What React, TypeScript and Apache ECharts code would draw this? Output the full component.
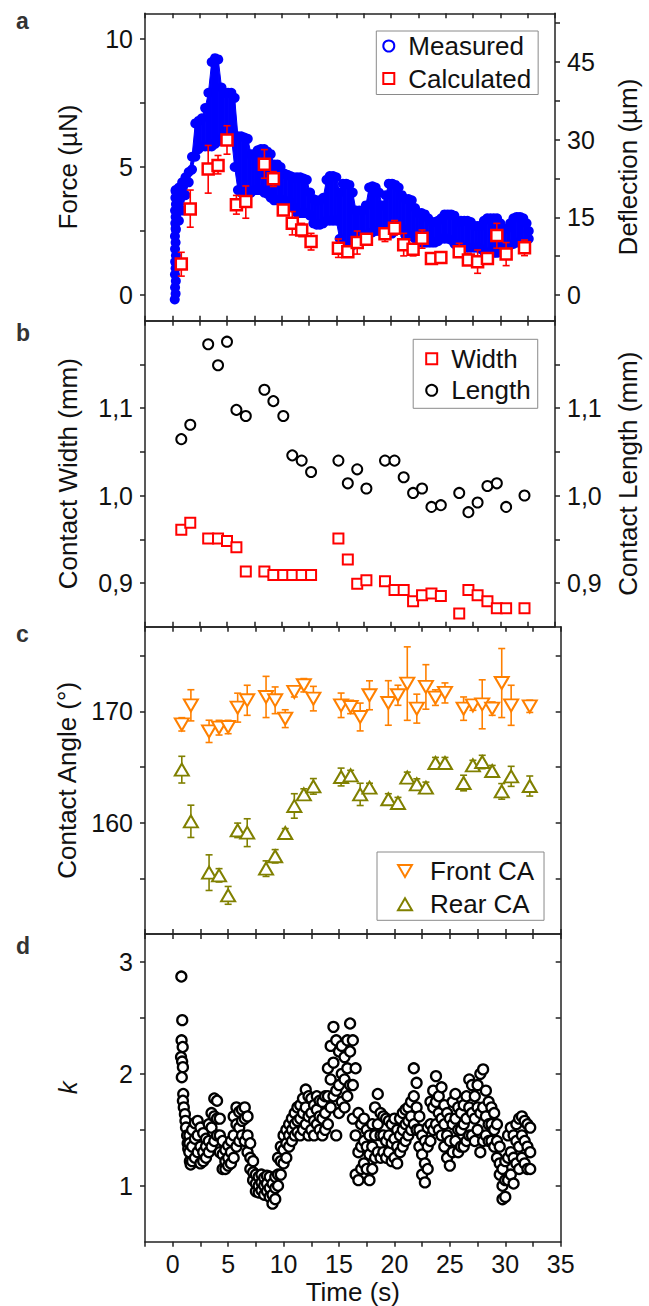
import { useEffect, useRef } from 'react';
import * as echarts from 'echarts';

const FONT = "'Liberation Sans', Arial, Helvetica, sans-serif";
const BLUE = '#0000ff';
const RED = '#ff0000';
const ORANGE = '#ff8000';
const OLIVE = '#808000';
const INK = '#111111';
const FRAME = '#222222';

// ---------- shared x axis ----------
const timeMin = -2.5;
const timeMax = 35;
const timeStep = 2.5;

// ---------- panel a: measured force band (envelope) ----------
const forceTime = [
  0.3, 0.6, 0.9, 1.2, 1.5, 1.8, 2.1, 2.4, 2.7, 3.0, 3.3, 3.6, 3.9, 4.2, 4.5, 4.8, 5.1, 5.4,
  5.7, 6.0, 6.3, 6.6, 6.9, 7.2, 7.5, 7.8, 8.1, 8.4, 8.7, 9.0, 9.3, 9.6, 9.9, 10.2, 10.5, 10.8,
  11.1, 11.4, 11.7, 12.0, 12.3, 12.6, 12.9, 13.2, 13.5, 13.8, 14.1, 14.4, 14.7, 15.0, 15.3, 15.6,
  15.9, 16.2, 16.5, 16.8, 17.1, 17.4, 17.7, 18.0, 18.3, 18.6, 18.9, 19.2, 19.5, 19.8, 20.1, 20.4,
  20.7, 21.0, 21.3, 21.6, 21.9, 22.2, 22.5, 22.8, 23.1, 23.4, 23.7, 24.0, 24.3, 24.6, 24.9, 25.2,
  25.5, 25.8, 26.1, 26.4, 26.7, 27.0, 27.3, 27.6, 27.9, 28.2, 28.5, 28.8, 29.1, 29.4, 29.7, 30.0,
  30.3, 30.6, 30.9, 31.2, 31.5, 31.8, 32.1, 32.4, 32.6,
];
const forceLow = [
  2.6, 2.9, 3.3, 3.9, 4.4, 4.9, 5.4, 5.7, 5.8, 5.8, 5.8, 5.8, 5.9, 6.0, 6.1, 6.2, 6.2, 6.2,
  5.0, 4.1, 4.0, 4.0, 4.0, 4.0, 4.1, 4.1, 4.1, 4.0, 3.95, 3.8, 3.7, 3.7, 3.7, 3.7, 3.65, 3.6,
  3.4, 3.2, 3.2, 3.2, 3.2, 3.1, 2.8, 2.75, 2.75, 2.8, 2.9, 2.9, 2.9, 2.9, 2.2, 1.95,
  1.9, 1.9, 1.95, 2.1, 2.2, 2.25, 2.3, 2.4, 2.45, 2.5, 2.5, 2.5, 2.45, 2.4, 2.4, 2.5,
  2.7, 2.6, 2.35, 2.3, 2.3, 2.2, 2.1, 2.05, 2.05, 2.05, 2.05, 2.05, 2.1, 2.2, 2.2, 2.2,
  2.15, 2.0, 1.9, 1.85, 1.85, 1.85, 1.85, 1.85, 1.85, 1.8, 1.7, 1.65, 1.65, 1.65, 1.65, 1.7,
  1.75, 1.85, 1.95, 2.0, 2.05, 2.05, 2.05, 2.1, 2.2,
];
const forceHigh = [
  4.1, 4.2, 4.4, 4.6, 4.8, 5.4, 6.7, 6.8, 6.9, 7.3, 7.9, 9.1, 9.25, 9.2, 8.1, 7.9, 7.9, 7.9,
  7.7, 6.2, 6.2, 6.15, 6.1, 5.5, 5.5, 5.65, 5.7, 5.7, 5.6, 5.5, 5.1, 5.1, 5.0, 4.75, 4.7, 4.65,
  4.6, 4.6, 4.6, 4.55, 4.5, 4.0, 3.75, 3.7, 3.7, 3.8, 4.5, 4.65, 4.65, 4.6, 4.0, 4.35,
  4.35, 4.3, 4.0, 3.3, 3.3, 3.3, 3.5, 4.2, 4.25, 4.2, 4.0, 3.5, 3.9, 4.35, 4.35, 4.3,
  4.2, 3.9, 3.75, 3.75, 3.7, 3.4, 3.2, 3.2, 3.15, 3.0, 2.85, 2.85, 2.9, 3.0, 3.15, 3.15,
  3.15, 3.1, 2.85, 2.9, 2.9, 2.9, 2.85, 2.7, 2.7, 2.7, 2.9, 3.0, 3.0, 3.0, 3.0, 2.8,
  2.6, 2.6, 2.8, 3.0, 3.05, 3.05, 3.0, 2.8, 2.5,
];
// initial steep rise, drawn as one column of points
const forceColumnTime = [0.22, 0.3, 0.25, 0.32, 0.24, 0.3, 0.26, 0.33, 0.25, 0.3, 0.24, 0.32, 0.27, 0.3, 0.25, 0.33, 0.28, 0.3];
const forceColumnValue = [-0.17, 0.05, 0.3, 0.55, 0.8, 1.05, 1.3, 1.55, 1.8, 2.05, 2.3, 2.55, 2.8, 3.05, 3.3, 3.55, 3.8, 4.05];

// ---------- frame times shared by calculated force, contact sizes, contact angles ----------
const frameTime = [
  0.82, 1.64, 3.28, 4.18, 5.0, 5.86, 6.72, 8.42, 9.24, 10.15, 10.97, 11.83, 12.69, 15.19, 16.05, 16.91,
  17.75, 19.45, 20.32, 21.16, 22.02, 22.84, 23.7, 24.56, 26.24, 27.08, 27.92, 28.82, 29.68, 30.53, 32.21,
];
const calcForce = [1.21, 3.36, 4.92, 5.06, 6.05, 3.53, 3.65, 5.11, 4.54, 3.32, 2.8, 2.54, 2.09, 1.83, 1.69, 2.05, 2.18, 2.39, 2.61, 1.96, 1.79, 2.22, 1.43, 1.47, 1.69, 1.37, 1.3, 1.43, 2.33, 1.6, 1.85];
const calcForceLow = [0.74, 2.65, 3.98, 4.73, 5.5, 3.16, 3.0, 4.56, 4.24, 3.16, 2.35, 2.28, 1.76, 1.47, 1.5, 1.6, 2.02, 2.09, 2.35, 1.53, 1.53, 1.83, 1.43, 1.47, 1.5, 1.17, 0.85, 1.43, 1.83, 1.15, 1.54];
const calcForceHigh = [1.67, 4.1, 5.84, 5.45, 6.61, 3.89, 4.26, 5.68, 4.82, 3.48, 3.26, 2.8, 2.41, 2.19, 1.89, 2.5, 2.35, 2.6, 2.91, 2.41, 1.96, 2.54, 1.43, 1.47, 2.02, 1.63, 1.76, 1.43, 2.8, 2.05, 2.15];

const forceLabels = [0, 5, 10];
const forceTicks = [0, 2.5, 5, 7.5, 10];
const deflectionPerForce = 4.94; // µm per µN
const deflectionLabels = [0, 15, 30, 45];
const deflectionTicks = [0, 7.5, 15, 22.5, 30, 37.5, 45, 52.5];

// ---------- panel b ----------
const contactWidth = [0.961, 0.969, 0.951, 0.951, 0.948, 0.941, 0.913, 0.913, 0.909, 0.909, 0.909, 0.909, 0.909, 0.951, 0.927, 0.899, 0.903, 0.902, 0.892, 0.892, 0.879, 0.886, 0.888, 0.885, 0.865, 0.892, 0.886, 0.879, 0.871, 0.871, 0.871];
const contactLength = [1.0645, 1.081, 1.173, 1.149, 1.176, 1.098, 1.091, 1.121, 1.108, 1.091, 1.046, 1.04, 1.027, 1.04, 1.014, 1.03, 1.008, 1.04, 1.04, 1.021, 1.003, 1.008, 0.987, 0.989, 1.003, 0.981, 0.992, 1.011, 1.014, 0.987, 1.0];
const sizeLabels = [0.9, 1.0, 1.1];
const sizeTicks = [0.9, 0.95, 1.0, 1.05, 1.1, 1.15];

// ---------- panel c ----------
const frontCA = [168.83, 170.54, 168.2, 168.53, 168.59, 170.33, 170.99, 171.29, 170.99, 169.34, 171.74, 172.34, 171.14, 170.54, 170.39, 169.49, 171.44, 170.75, 171.44, 172.49, 170.24, 172.19, 171.23, 171.65, 170.24, 170.54, 170.63, 170.24, 172.54, 170.54, 170.45];
const frontCAErr = [0.6, 1.4, 1.0, 0.66, 0.6, 1.3, 1.35, 1.85, 1.2, 0.8, 0.45, 0.6, 1.1, 1.1, 0.6, 1.25, 1.3, 2.0, 0.9, 3.3, 1.3, 2.0, 0.7, 0.9, 1.05, 0.45, 2.2, 0.6, 3.1, 1.8, 0.55];
const rearCA = [164.76, 160.12, 155.51, 155.27, 153.47, 159.31, 159.1, 155.87, 156.98, 159.07, 161.5, 162.54, 163.26, 164.1, 164.25, 162.54, 163.14, 162.1, 161.77, 164.04, 163.44, 163.14, 165.36, 165.36, 163.56, 165.15, 165.45, 164.64, 162.81, 164.16, 163.29];
const rearCAErr = [1.2, 1.45, 1.6, 0.6, 0.8, 0.65, 1.25, 0.7, 0.6, 0.4, 1.1, 0.5, 0.7, 0.8, 0.45, 1.0, 0.4, 0.5, 0.5, 0.5, 0.5, 0.5, 0.5, 0.5, 0.7, 0.45, 0.6, 0.5, 0.7, 0.9, 0.9];
const angleLabels = [160, 170];
const angleTicks = [155, 160, 165, 170, 175];

// ---------- panel d ----------
const kEarlyTime = [0.78, 0.86, 0.8, 0.9, 0.75, 0.85, 0.92, 0.82, 0.95, 0.92, 1.0, 1.1, 1.15, 1.2, 1.3, 1.35, 1.4, 1.55, 1.62];
const kEarlyValue = [2.87, 2.48, 2.3, 2.24, 2.15, 2.11, 2.06, 1.97, 1.82, 1.76, 1.7, 1.64, 1.58, 1.52, 1.45, 1.38, 1.33, 1.22, 1.19];
const kTime = [
  1.5, 1.75, 2, 2.25, 2.5, 2.75, 3, 3.25,
  3.5, 3.75, 4, 4.25, 4.5, 4.75, 5, 5.25,
  5.5, 5.75, 6, 6.25, 6.5, 6.75, 7, 7.25,
  7.5, 7.75, 8, 8.25, 8.5, 8.75, 9, 9.25,
  9.5, 9.75, 10, 10.25, 10.5, 10.75, 11, 11.25,
  11.5, 11.75, 12, 12.25, 12.5, 12.75, 13, 13.25,
  13.5, 13.75, 14, 14.25, 14.5, 14.75, 15, 15.25,
  15.5, 15.75, 16, 16.25, 16.5, 16.75, 17, 17.25,
  17.5, 17.75, 18, 18.25, 18.5, 18.75, 19, 19.25,
  19.5, 19.75, 20, 20.25, 20.5, 20.75, 21, 21.25,
  21.5, 21.75, 22, 22.25, 22.5, 22.75, 23, 23.25,
  23.5, 23.75, 24, 24.25, 24.5, 24.75, 25, 25.25,
  25.5, 25.75, 26, 26.25, 26.5, 26.75, 27, 27.25,
  27.5, 27.75, 28, 28.25, 28.5, 28.75, 29, 29.25,
  29.5, 29.75, 30, 30.25, 30.5, 30.75, 31, 31.25,
  31.5, 31.75, 32, 32.25,
];
const kLow = [
  1.30, 1.22, 1.25, 1.30, 1.20, 1.22, 1.25, 1.30,
  1.35, 1.40, 1.45, 1.30, 1.15, 1.15, 1.18, 1.20,
  1.25, 1.35, 1.40, 1.45, 1.40, 1.30, 1.15, 1.05,
  0.95, 0.94, 0.96, 0.92, 0.95, 0.90, 0.84, 0.88,
  1.00, 1.10, 1.20, 1.25, 1.35, 1.40, 1.45, 1.48,
  1.45, 1.50, 1.55, 1.45, 1.50, 1.45, 1.55, 1.50,
  1.45, 1.50, 1.55, 1.70, 1.80, 1.45, 1.65, 1.75,
  1.70, 1.80, 1.90, 1.60, 1.10, 1.05, 1.15, 1.20,
  1.15, 1.05, 1.15, 1.25, 1.30, 1.25, 1.30, 1.25,
  1.30, 1.22, 1.25, 1.20, 1.30, 1.35, 1.40, 1.45,
  1.50, 1.55, 1.50, 1.35, 1.10, 1.03, 1.15, 1.40,
  1.50, 1.55, 1.50, 1.45, 1.35, 1.25, 1.18, 1.30,
  1.40, 1.30, 1.35, 1.35, 1.40, 1.45, 1.45, 1.40,
  1.50, 1.30, 1.40, 1.45, 1.40, 1.40, 1.35, 1.25,
  1.10, 0.88, 0.90, 1.05, 1.10, 1.02, 1.20, 1.15,
  1.25, 1.20, 1.15, 1.15,
];
const kMid = [
  1.38, 1.35, 1.42, 1.45, 1.35, 1.30, 1.35, 1.40,
  1.52, 1.62, 1.60, 1.45, 1.28, 1.22, 1.25, 1.30,
  1.45, 1.55, 1.52, 1.58, 1.60, 1.45, 1.25, 1.12,
  1.02, 1.00, 1.03, 1.00, 1.02, 0.98, 0.92, 0.98,
  1.10, 1.22, 1.32, 1.38, 1.45, 1.50, 1.55, 1.58,
  1.60, 1.65, 1.70, 1.62, 1.65, 1.58, 1.68, 1.62,
  1.60, 1.65, 1.80, 1.95, 2.10, 1.85, 1.90, 2.00,
  1.95, 2.05, 2.20, 1.90, 1.45, 1.30, 1.35, 1.40,
  1.35, 1.28, 1.35, 1.45, 1.55, 1.45, 1.45, 1.40,
  1.45, 1.38, 1.42, 1.35, 1.45, 1.50, 1.55, 1.58,
  1.62, 1.80, 1.70, 1.50, 1.28, 1.20, 1.35, 1.55,
  1.70, 1.75, 1.65, 1.60, 1.55, 1.45, 1.40, 1.55,
  1.60, 1.50, 1.50, 1.55, 1.60, 1.70, 1.65, 1.60,
  1.70, 1.65, 1.70, 1.62, 1.55, 1.55, 1.50, 1.40,
  1.20, 1.00, 1.05, 1.25, 1.30, 1.25, 1.40, 1.35,
  1.45, 1.40, 1.35, 1.30,
];
const kHigh = [
  1.45, 1.50, 1.56, 1.58, 1.52, 1.47, 1.42, 1.55,
  1.65, 1.78, 1.76, 1.60, 1.40, 1.32, 1.36, 1.40,
  1.62, 1.70, 1.66, 1.68, 1.70, 1.62, 1.38, 1.22,
  1.10, 1.08, 1.10, 1.07, 1.09, 1.08, 1.02, 1.08,
  1.25, 1.35, 1.45, 1.50, 1.55, 1.60, 1.65, 1.70,
  1.72, 1.78, 1.86, 1.80, 1.78, 1.72, 1.80, 1.76,
  1.75, 1.80, 2.05, 2.25, 2.42, 2.30, 2.20, 2.25,
  2.15, 2.30, 2.45, 2.30, 2.05, 1.65, 1.55, 1.60,
  1.50, 1.45, 1.55, 1.70, 1.82, 1.65, 1.62, 1.60,
  1.58, 1.55, 1.60, 1.50, 1.60, 1.65, 1.68, 1.70,
  1.75, 2.05, 1.92, 1.62, 1.45, 1.40, 1.52, 1.75,
  1.85, 1.98, 1.80, 1.88, 1.72, 1.65, 1.60, 1.75,
  1.82, 1.70, 1.65, 1.72, 1.80, 1.95, 1.90, 1.80,
  1.90, 2.00, 2.04, 1.85, 1.75, 1.70, 1.65, 1.55,
  1.35, 1.15, 1.22, 1.45, 1.52, 1.45, 1.55, 1.60,
  1.62, 1.58, 1.55, 1.52,
];
const kLabels = [1, 2, 3];
const kTicks = [1, 1.5, 2, 2.5, 3];

// ---------- layout (pixels) ----------
const GRID_LEFT = 145;
const GRID_WIDTH = 415.7;
const GRID_TOPS = [13.3, 320.7, 626.7, 934];
const GRID_HEIGHTS = [307.4, 306, 307.3, 307.7];

const DOWN_TRIANGLE = 'path://M0,0L10,0L5,8.66Z';

const lineStyle = { color: FRAME, width: 1.5 };
const nameStyle = { fontSize: 26, color: INK, fontFamily: FONT };
const comma = (v: number) => v.toFixed(1).replace('.', ',');

function xAxisFor(g: number, position: 'bottom' | 'top', withLabels: boolean) {
  return {
    type: 'value',
    gridIndex: g,
    position,
    min: timeMin,
    max: timeMax,
    interval: timeStep,
    axisLine: { show: true, onZero: false, lineStyle },
    axisTick: { show: true, inside: !withLabels, length: 5, lineStyle },
    axisLabel: withLabels
      ? {
          show: true,
          fontSize: 25,
          color: INK,
          fontFamily: FONT,
          margin: 10,
          formatter: (v: number) => (v >= 0 && Math.abs(v % 5) < 1e-6 ? String(v) : ''),
        }
      : { show: false },
    splitLine: { show: false },
    name: withLabels ? 'Time (s)' : '',
    nameLocation: 'middle',
    nameGap: 37,
    nameTextStyle: nameStyle,
  };
}

function yAxisFor(
  g: number,
  position: 'left' | 'right',
  min: number,
  max: number,
  ticks: number[],
  labels: number[] | null,
  name: string,
  formatter?: (v: number) => string,
  italic?: boolean,
) {
  return {
    type: 'value',
    gridIndex: g,
    position,
    min,
    max,
    axisLine: { show: true, onZero: false, lineStyle },
    axisTick: { show: true, inside: !labels, length: 5, lineStyle, customValues: ticks },
    axisLabel: labels
      ? {
          show: true,
          customValues: labels,
          fontSize: 25,
          color: INK,
          fontFamily: FONT,
          margin: 12,
          formatter: formatter || ((v: number) => String(v)),
        }
      : { show: false },
    splitLine: { show: false },
    name,
    nameLocation: 'middle',
    nameGap: position === 'left' ? 64 : 60,
    nameTextStyle: { ...nameStyle, fontStyle: italic ? 'italic' : 'normal' },
  };
}

function errorBarSeries(name: string, xIdx: number, yIdx: number, data: number[][], color: string, z: number) {
  return {
    type: 'custom',
    name,
    xAxisIndex: xIdx,
    yAxisIndex: yIdx,
    z,
    silent: true,
    encode: { x: 0, y: [1, 2] },
    data,
    renderItem: (_params: any, api: any) => {
      const x = api.value(0);
      const top = api.coord([x, api.value(2)]);
      const bot = api.coord([x, api.value(1)]);
      const w = 3.5;
      const st = { stroke: color, lineWidth: 1.6 };
      return {
        type: 'group',
        children: [
          { type: 'line', shape: { x1: top[0], y1: top[1], x2: bot[0], y2: bot[1] }, style: st },
          { type: 'line', shape: { x1: top[0] - w, y1: top[1], x2: top[0] + w, y2: top[1] }, style: st },
          { type: 'line', shape: { x1: bot[0] - w, y1: bot[1], x2: bot[0] + w, y2: bot[1] }, style: st },
        ],
      };
    },
  };
}

function buildOption() {
  // panel a data
  const bandData = forceTime.slice(0, -1).map((t, i) => [
    t, forceLow[i], forceHigh[i], forceTime[i + 1], forceLow[i + 1], forceHigh[i + 1],
  ]);
  const measuredPoints: number[][] = [];
  forceColumnTime.forEach((t, i) => measuredPoints.push([t, forceColumnValue[i]]));
  forceTime.forEach((t, i) => {
    measuredPoints.push([t, forceLow[i]]);
    measuredPoints.push([t, forceHigh[i]]);
  });
  const calcPoints = frameTime.map((t, i) => [t, calcForce[i]]);
  const calcErr = frameTime.map((t, i) => [t, calcForceLow[i], calcForceHigh[i]]);

  // panel b
  const widthPoints = frameTime.map((t, i) => [t, contactWidth[i]]);
  const lengthPoints = frameTime.map((t, i) => [t, contactLength[i]]);

  // panel c
  const frontPoints = frameTime.map((t, i) => [t, frontCA[i]]);
  const frontErr = frameTime.map((t, i) => [t, frontCA[i] - frontCAErr[i], frontCA[i] + frontCAErr[i]]);
  const rearPoints = frameTime.map((t, i) => [t, rearCA[i]]);
  const rearErr = frameTime.map((t, i) => [t, rearCA[i] - rearCAErr[i], rearCA[i] + rearCAErr[i]]);

  // panel d
  const kPoints: number[][] = [];
  kEarlyTime.forEach((t, i) => kPoints.push([t, kEarlyValue[i]]));
  kTime.forEach((t, i) => {
    kPoints.push([t, kLow[i]]);
    kPoints.push([t, kHigh[i]]);
    kPoints.push([t, kMid[i]]);
  });

  const grids = GRID_TOPS.map((top, i) => ({
    left: GRID_LEFT,
    width: GRID_WIDTH,
    top,
    height: GRID_HEIGHTS[i],
    containLabel: false,
  }));

  const xAxes: any[] = [];
  for (let g = 0; g < 4; g++) {
    xAxes.push(xAxisFor(g, 'bottom', g === 3));
    xAxes.push(xAxisFor(g, 'top', false));
  }

  const yAxes = [
    yAxisFor(0, 'left', -1, 11, forceTicks, forceLabels, 'Force (µN)'),
    yAxisFor(0, 'right', -1 * deflectionPerForce, 11 * deflectionPerForce, deflectionTicks, deflectionLabels, 'Deflection (µm)'),
    yAxisFor(1, 'left', 0.85, 1.2, sizeTicks, sizeLabels, 'Contact Width (mm)', comma),
    yAxisFor(1, 'right', 0.85, 1.2, sizeTicks, sizeLabels, 'Contact Length (mm)', comma),
    yAxisFor(2, 'left', 150, 177.6, angleTicks, angleLabels, 'Contact Angle (°)'),
    yAxisFor(2, 'right', 150, 177.6, angleTicks, null, ''),
    yAxisFor(3, 'left', 0.5, 3.25, kTicks, kLabels, 'k', undefined, true),
    yAxisFor(3, 'right', 0.5, 3.25, kTicks, null, ''),
  ];

  const legendText = { fontSize: 26, color: INK, fontFamily: FONT, lineHeight: 26 };

  const legends = [
    {
      orient: 'vertical',
      left: 376.3,
      top: 31,
      padding: [2, 7, 3, 6],
      itemGap: 6.5,
      itemWidth: 11,
      itemHeight: 11,
      borderColor: '#8a8a8a',
      borderWidth: 1,
      selectedMode: false,
      textStyle: { ...legendText, padding: [0, 0, 0, 9] },
      data: [
        { name: 'Measured', icon: 'circle', itemStyle: { color: '#ffffff', borderColor: BLUE, borderWidth: 2 } },
        { name: 'Calculated', icon: 'rect' },
      ],
    },
    {
      orient: 'vertical',
      left: 413.2,
      top: 339.3,
      padding: [6.5, 7, 5, 12],
      itemGap: 5.5,
      itemWidth: 11,
      itemHeight: 11,
      borderColor: '#8a8a8a',
      borderWidth: 1,
      selectedMode: false,
      textStyle: { ...legendText, padding: [0, 0, 0, 9] },
      data: [
        { name: 'Width', icon: 'rect' },
        { name: 'Length', icon: 'circle' },
      ],
    },
    {
      orient: 'vertical',
      left: 377,
      top: 852,
      padding: [6, 10, 3, 20],
      itemGap: 7.3,
      itemWidth: 14,
      itemHeight: 12,
      borderColor: '#8a8a8a',
      borderWidth: 1,
      selectedMode: false,
      textStyle: { ...legendText, padding: [0, 0, 0, 13] },
      data: [
        { name: 'Front CA', icon: DOWN_TRIANGLE },
        { name: 'Rear CA', icon: 'triangle' },
      ],
    },
  ];

  const series: any[] = [
    {
      type: 'custom',
      name: 'Measured band',
      xAxisIndex: 0,
      yAxisIndex: 0,
      z: 1,
      silent: true,
      encode: { x: [0, 3], y: [1, 2, 4, 5] },
      data: bandData,
      renderItem: (_params: any, api: any) => {
        const a = api.coord([api.value(0), api.value(1)]);
        const b = api.coord([api.value(3), api.value(4)]);
        const c = api.coord([api.value(3), api.value(5)]);
        const d = api.coord([api.value(0), api.value(2)]);
        return {
          type: 'polygon',
          shape: { points: [a, b, c, d] },
          style: { fill: BLUE, stroke: BLUE, lineWidth: 1 },
        };
      },
    },
    {
      type: 'scatter',
      name: 'Measured',
      xAxisIndex: 0,
      yAxisIndex: 0,
      z: 2,
      silent: true,
      symbol: 'circle',
      symbolSize: 10,
      itemStyle: { color: BLUE, opacity: 1 },
      data: measuredPoints,
    },
    errorBarSeries('Calculated error', 0, 0, calcErr, RED, 3),
    {
      type: 'scatter',
      name: 'Calculated',
      xAxisIndex: 0,
      yAxisIndex: 0,
      z: 4,
      silent: true,
      symbol: 'rect',
      symbolSize: 11,
      itemStyle: { color: '#ffffff', borderColor: RED, borderWidth: 2.5, opacity: 1 },
      data: calcPoints,
    },
    {
      type: 'scatter',
      name: 'Width',
      xAxisIndex: 2,
      yAxisIndex: 2,
      silent: true,
      symbol: 'rect',
      symbolSize: 10,
      itemStyle: { color: '#ffffff', borderColor: RED, borderWidth: 2, opacity: 1 },
      data: widthPoints,
    },
    {
      type: 'scatter',
      name: 'Length',
      xAxisIndex: 2,
      yAxisIndex: 3,
      silent: true,
      symbol: 'circle',
      symbolSize: 10,
      itemStyle: { color: '#ffffff', borderColor: '#000000', borderWidth: 2, opacity: 1 },
      data: lengthPoints,
    },
    errorBarSeries('Front error', 4, 4, frontErr, ORANGE, 2),
    errorBarSeries('Rear error', 4, 4, rearErr, OLIVE, 2),
    {
      type: 'scatter',
      name: 'Front CA',
      xAxisIndex: 4,
      yAxisIndex: 4,
      z: 3,
      silent: true,
      symbol: DOWN_TRIANGLE,
      symbolSize: [14, 12],
      itemStyle: { color: '#ffffff', borderColor: ORANGE, borderWidth: 2, opacity: 1 },
      data: frontPoints,
    },
    {
      type: 'scatter',
      name: 'Rear CA',
      xAxisIndex: 4,
      yAxisIndex: 4,
      z: 3,
      silent: true,
      symbol: 'triangle',
      symbolSize: [14, 12],
      itemStyle: { color: '#ffffff', borderColor: OLIVE, borderWidth: 2, opacity: 1 },
      data: rearPoints,
    },
    {
      type: 'scatter',
      name: 'k',
      xAxisIndex: 6,
      yAxisIndex: 6,
      silent: true,
      symbol: 'circle',
      symbolSize: 10,
      itemStyle: { color: '#ffffff', borderColor: '#000000', borderWidth: 2.3, opacity: 1 },
      data: kPoints,
    },
  ];

  const letter = (text: string, top: number) => ({
    type: 'text',
    left: 16,
    top,
    silent: true,
    style: { text, fontSize: 23, fontWeight: 'bold', fontFamily: FONT, fill: '#333333' },
  });

  return {
    animation: false,
    backgroundColor: '#ffffff',
    textStyle: { fontFamily: FONT },
    grid: grids,
    xAxis: xAxes,
    yAxis: yAxes,
    legend: legends,
    series,
    graphic: [letter('a', 9), letter('b', 321), letter('c', 622), letter('d', 934)],
  };
}

export default function App() {
  const ref = useRef<HTMLDivElement>(null);
  useEffect(() => {
    document.body.style.margin = '0';
    if (!ref.current) return;
    const chart = echarts.init(ref.current, undefined, { renderer: 'svg' });
    chart.setOption(buildOption() as any);
    return () => chart.dispose();
  }, []);
  return <div ref={ref} style={{ width: 649, height: 1306 }} />;
}
